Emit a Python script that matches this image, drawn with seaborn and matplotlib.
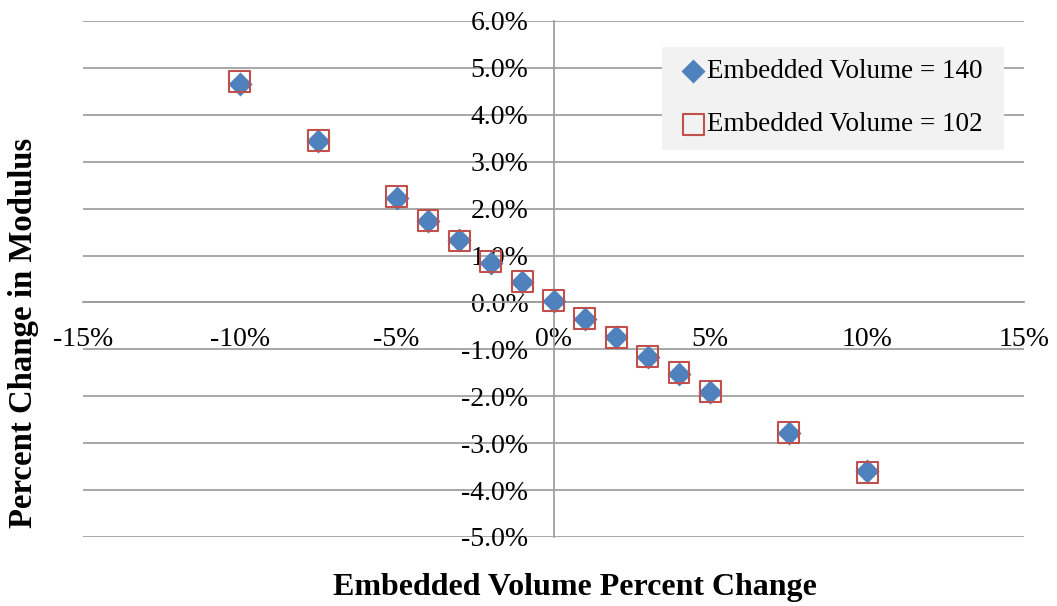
import matplotlib
matplotlib.use("Agg")
import matplotlib.pyplot as plt
from matplotlib.ticker import FuncFormatter, MultipleLocator
import pandas as pd
import seaborn as sns

# Embedded volume change (%) and resulting modulus change (%)
volume_change = [-10, -7.5, -5, -4, -3, -2, -1, 0, 1, 2, 3, 4, 5, 7.5, 10]
modulus_ev140 = [4.66, 3.44, 2.23, 1.74, 1.33, 0.84, 0.43, 0.04, -0.35, -0.74, -1.16, -1.53, -1.91, -2.79, -3.59]
modulus_ev102 = [4.71, 3.45, 2.26, 1.75, 1.31, 0.88, 0.44, 0.04, -0.35, -0.74, -1.15, -1.50, -1.90, -2.78, -3.62]
series_labels = ["Embedded Volume = 140", "Embedded Volume = 102"]

sns.set_style("white")
plt.rcParams["font.family"] = ["Liberation Serif", "DejaVu Serif"]
plt.rcParams["text.color"] = "black"
plt.rcParams["xtick.labelcolor"] = "black"
plt.rcParams["ytick.labelcolor"] = "black"

df140 = pd.DataFrame({"x": volume_change, "y": modulus_ev140})
df102 = pd.DataFrame({"x": volume_change, "y": modulus_ev102})

fig = plt.figure(figsize=(10.57, 6.06), dpi=100)
ax = fig.add_axes([83 / 1057, 69 / 606, 941 / 1057, 516 / 606])

grid_c = "#a0a0a0"
blue = "#4f81bd"
red = "#c0504d"

sns.scatterplot(data=df140, x="x", y="y", marker="D", s=150, color=blue,
                edgecolor=blue, linewidth=0, ax=ax, label=series_labels[0], zorder=3)
sns.scatterplot(data=df102, x="x", y="y", marker="s", s=225, facecolor="none",
                edgecolor=red, linewidth=1.5, ax=ax, label=series_labels[1], zorder=4)

ax.set_xlim(-15, 15)
ax.set_ylim(-5, 6)
ax.xaxis.set_major_locator(MultipleLocator(5))
ax.yaxis.set_major_locator(MultipleLocator(1))
ax.xaxis.set_major_formatter(FuncFormatter(lambda v, p: f"{v:.0f}%"))
ax.yaxis.set_major_formatter(FuncFormatter(lambda v, p: f"{v:.1f}%"))

ax.grid(axis="y", color=grid_c, linewidth=1.3)
ax.grid(axis="x", visible=False)
ax.set_axisbelow(True)

for side in ("top", "right"):
    ax.spines[side].set_visible(False)
for side in ("left", "bottom"):
    ax.spines[side].set_position(("data", 0))
    ax.spines[side].set_color(grid_c)
    ax.spines[side].set_linewidth(1.3)

ax.tick_params(axis="x", direction="out", length=6, width=1.3, color=grid_c,
               labelsize=20, pad=12, labelcolor="black")
ax.tick_params(axis="y", length=0, labelsize=20, pad=18, labelcolor="black")
ax.set_xlabel("")
ax.set_ylabel("")

fig.text(575 / 1057, 1 - 587 / 606, "Embedded Volume Percent Change",
         ha="center", va="center", fontsize=23, fontweight="bold", color="black")
fig.text(24 / 1057, 1 - 333 / 606, "Percent Change in Modulus",
         ha="center", va="center", rotation=90, fontsize=23.6, fontweight="bold",
         color="black")

leg = ax.legend(loc="upper left", bbox_to_anchor=(0.6153, 0.5, 0.3634, 0.450),
                mode="expand", borderaxespad=0, fontsize=19.5, frameon=True,
                fancybox=False, handletextpad=-0.19, handlelength=1.4,
                labelspacing=1.05, borderpad=0.45)
leg.get_frame().set_facecolor("#f2f2f2")
leg.get_frame().set_edgecolor("none")
leg.get_frame().set_alpha(1)
for t in leg.get_texts():
    t.set_color("black")

fig.savefig("out.png", dpi=100, facecolor="white")
